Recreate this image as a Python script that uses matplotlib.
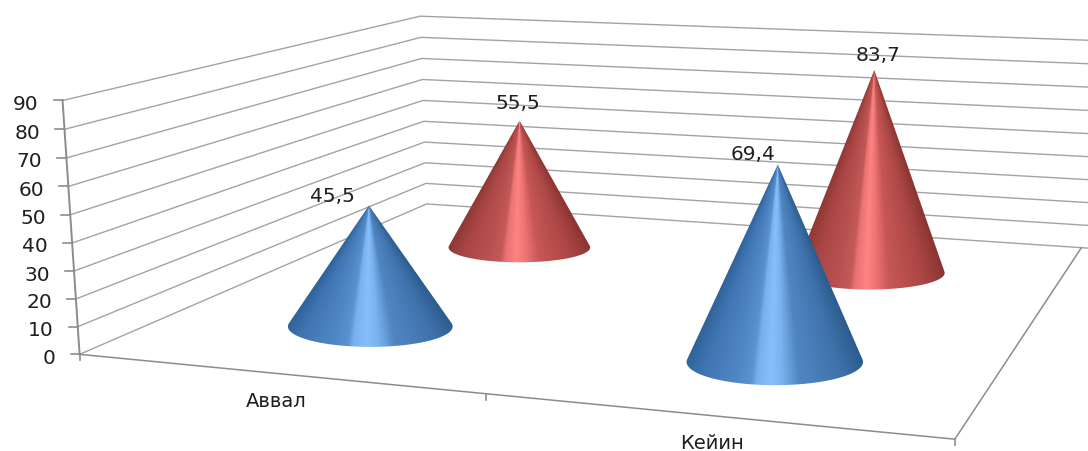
import numpy as np
import matplotlib
matplotlib.use("Agg")
import matplotlib.pyplot as plt
from matplotlib.path import Path
from matplotlib.patches import PathPatch
from matplotlib.colors import LinearSegmentedColormap

# Chart data
categories = ["Аввал", "Кейин"]
series_blue = [45.5, 69.4]
series_red = [55.5, 83.7]
value_ticks = [0, 10, 20, 30, 40, 50, 60, 70, 80, 90]
value_max = 90

W, H = 1088, 452

# Scene calibration: box corners (along category axis, along depth, height) and where they sit on the canvas
box_pts = np.array([[0, 0, 0], [1, 0, 0], [1, 1, 0], [0, 1, 0],
                    [0, 0, 1], [0, 1, 1], [1, 1, 1]], float)
canvas_pts = np.array([[81, 355], [955, 440], [1082, 249], [425, 205],
                       [61, 102], [422, 17], [1086, 41]], float)
TIP_LEAN = 3.5  # sideways offset of every cone tip


def solve_camera(box, canvas):
    rows, rhs = [], []
    for (a, b, c), (x, y) in zip(box, canvas):
        rows.append([a, b, c, 1, 0, 0, 0, 0, -x*a, -x*b, -x*c])
        rhs.append(x)
        rows.append([0, 0, 0, 0, a, b, c, 1, -y*a, -y*b, -y*c])
        rhs.append(y)
    sol = np.linalg.lstsq(np.array(rows), np.array(rhs), rcond=None)[0]
    return np.append(sol, 1).reshape(3, 4)


CAM = solve_camera(box_pts, canvas_pts)


def project(u, v, value):
    u, v, value = np.broadcast_arrays(u, v, value)
    pts = np.stack([u, v, np.asarray(value) / value_max, np.ones_like(u, float)], axis=-1)
    q = pts @ CAM.T
    return q[..., 0] / q[..., 2], q[..., 1] / q[..., 2]


blue_map = LinearSegmentedColormap.from_list("blue_cone", [
    (0.00, "#2f6299"), (0.12, "#3f75b2"), (0.30, "#4f86c4"), (0.38, "#5a92d2"),
    (0.41, "#78b0ee"), (0.48, "#86bffc"), (0.54, "#7ab2ee"), (0.63, "#4f86c2"),
    (0.85, "#3f72aa"), (1.00, "#2c5c8e")])
red_map = LinearSegmentedColormap.from_list("red_cone", [
    (0.00, "#8e3836"), (0.12, "#a84543"), (0.30, "#b85250"), (0.38, "#c45a58"),
    (0.41, "#e87272"), (0.48, "#ff8383"), (0.54, "#ee7575"), (0.63, "#c65755"),
    (0.85, "#aa4644"), (1.00, "#8a3432")])


def draw_cone(ax, u0, v0, value, cmap, width_per_unit=31.0, rv=0.11):
    """Shaded cone: colour depends on the ruling through the apex, base stays level on screen."""
    cx, cy = project(u0, v0, 0)
    tip_x, tip_y = project(u0, v0, value)
    cx, cy, tip_x, tip_y = float(cx), float(cy), float(tip_x) + TIP_LEAN, float(tip_y)
    rise = cy - tip_y
    rx = width_per_unit * rise / value
    _, y_near = project(u0, v0 - rv, 0)
    _, y_far = project(u0, v0 + rv, 0)
    ry = 0.5 * float(y_near - y_far)

    # Tangent points of the silhouette on the base ellipse
    s = ry / rise
    c = np.sqrt(1 - s*s)
    th = np.linspace(-np.arcsin(s), np.pi + np.arcsin(s), 160)
    ex, ey = cx + rx*np.cos(th), cy + ry*np.sin(th)
    verts = np.vstack([[tip_x, tip_y], np.column_stack([ex, ey]), [tip_x, tip_y]])
    codes = [Path.MOVETO] + [Path.LINETO]*(len(verts)-2) + [Path.CLOSEPOLY]
    outline = Path(verts, codes)

    slope_r = (cx + rx*c - tip_x) / (cy - ry*s - tip_y)
    slope_l = (cx - rx*c - tip_x) / (cy - ry*s - tip_y)

    x0, x1 = int(ex.min()) - 3, int(ex.max()) + 4
    y0, y1 = int(tip_y) - 3, int(ey.max()) + 4
    xx, yy = np.meshgrid(np.arange(x0, x1) + 0.5, np.arange(y0, y1) + 0.5)
    slope = (xx - tip_x) / np.maximum(yy - tip_y, 0.5)
    t = np.clip((slope - slope_l) / (slope_r - slope_l), 0, 1)
    im = ax.imshow(t, cmap=cmap, vmin=0, vmax=1, extent=(x0, x1, y1, y0),
                   interpolation="nearest", aspect="auto", zorder=3)
    clip = PathPatch(outline, transform=ax.transData, fc="none", ec="none")
    ax.add_patch(clip)
    im.set_clip_path(clip)


fig = plt.figure(figsize=(W/100, H/100), dpi=100)
ax = fig.add_axes([0, 0, 1, 1])

GRID = "#a3a3a3"
AXIS = "#8c8c8c"
TEXT = "#1f1f1f"
FONT = "DejaVu Sans"

# Walls: each gridline runs along the side wall, then along the back wall
for val in value_ticks:
    xs, ys = project([0, 0, 1.02], [0, 1, 1], val)
    ax.plot(xs, ys, color=GRID, lw=1.0, zorder=1, solid_joinstyle="miter")
    ax.plot([xs[0] - 9, xs[0]], [ys[0], ys[0]], color=AXIS, lw=1.2, zorder=2)
    ax.text(xs[0] - 24, ys[0] + 3, str(val), ha="right", va="center",
            fontsize=14.5, color=TEXT, family=FONT)

# Value axis and floor outline
xs, ys = project([0, 0], [0, 0], [0, value_max])
ax.plot(xs, ys, color=AXIS, lw=1.4, zorder=2)
xs, ys = project([0, 1, 1], [0, 0, 1], 0)
ax.plot(xs, ys, color=AXIS, lw=1.1, zorder=2)
for u in (0, 0.5, 1):
    x, y = project(u, 0, 0)
    ax.plot([x, x], [y, y + 6], color=AXIS, lw=1.2, zorder=2)

# Category labels under the front edge
label_u = [0.25, 0.75]
for cat, u in zip(categories, label_u):
    x, y = project(u, 0, 0)
    ax.annotate(cat, (x, y), xytext=(0, -27), textcoords="offset pixels",
                ha="center", va="center", fontsize=14, color=TEXT, family=FONT)

# Cones, far row first
cat_pos = [0.256, 0.7555]
series_depth = {"blue": 0.235, "red": 0.735}
label_shift = {"blue": [(-36, 1), (-25, 1)], "red": [(-1.5, 9), (4, 6)]}
for values, cmap, key in [(series_red, red_map, "red"), (series_blue, blue_map, "blue")]:
    for u, val, off in zip(cat_pos, values, label_shift[key]):
        draw_cone(ax, u, series_depth[key], val, cmap)
        x, y = project(u, series_depth[key], val)
        ax.annotate(f"{val}".replace(".", ","), (x + TIP_LEAN, y), xytext=off,
                    textcoords="offset pixels", ha="center", va="bottom",
                    fontsize=14.5, color=TEXT, family=FONT, zorder=5)

ax.set_xlim(0, W)
ax.set_ylim(H, 0)
ax.axis("off")

fig.savefig("out.png", dpi=100, facecolor="white")
